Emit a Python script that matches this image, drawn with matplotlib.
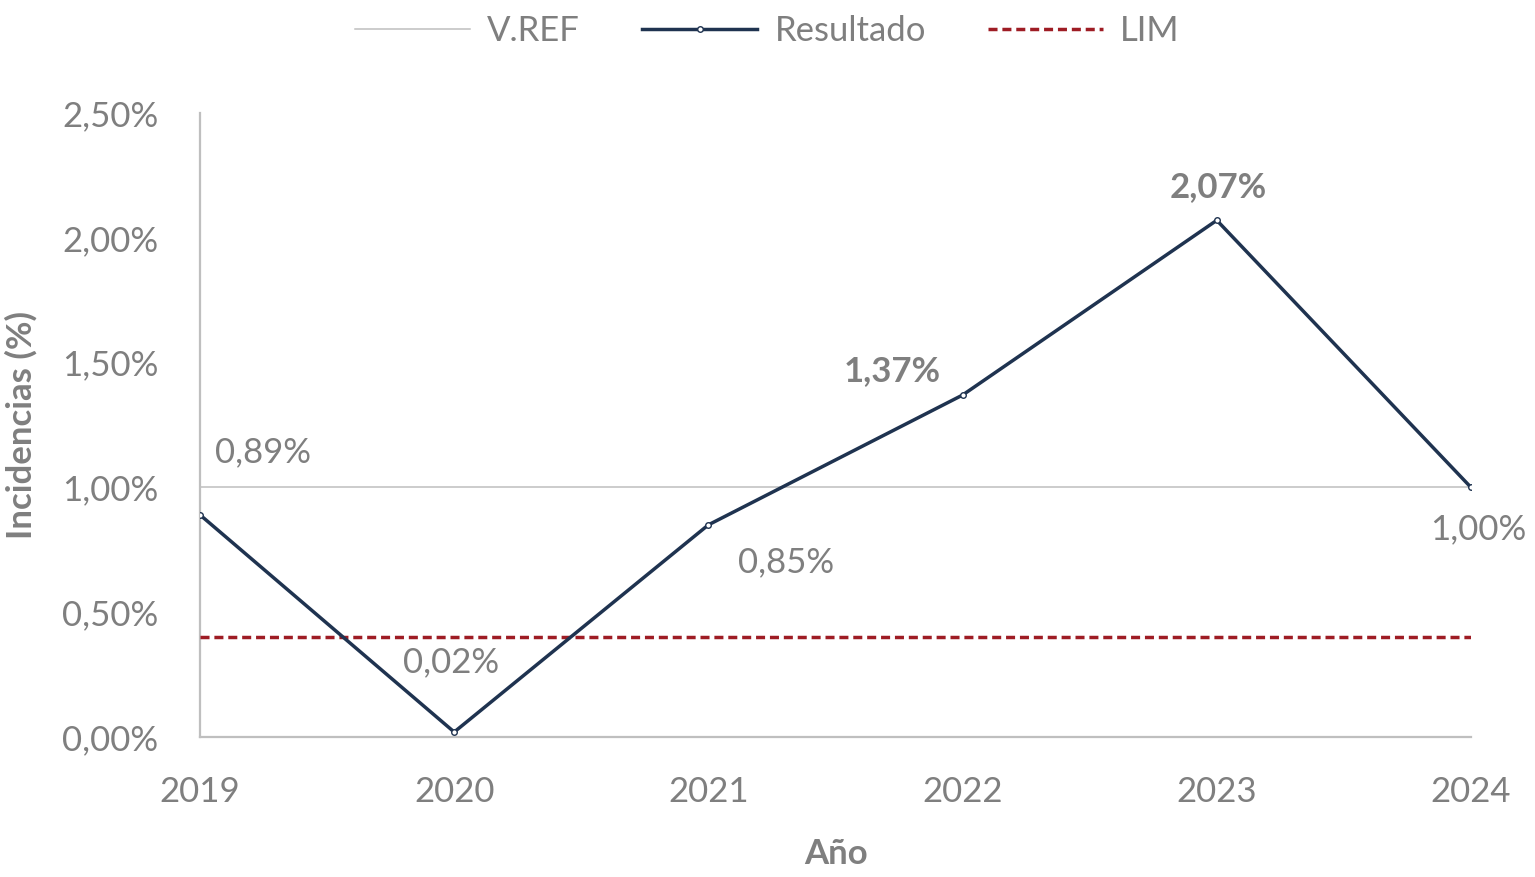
import matplotlib
matplotlib.use("Agg")
import matplotlib.pyplot as plt
from matplotlib.ticker import FuncFormatter

plt.rcParams["font.family"] = ["Lato", "DejaVu Sans"]

# ── Data ─────────────────────────────────────────────────────────
years = [2019, 2020, 2021, 2022, 2023, 2024]
resultado = [0.89, 0.02, 0.85, 1.37, 2.07, 1.00]
vref = [1.00, 1.00, 1.00, 1.00, 1.00, 1.00]
lim = [0.40, 0.40, 0.40, 0.40, 0.40, 0.40]
y_ticks = [0.0, 0.5, 1.0, 1.5, 2.0, 2.5]

# label offsets (points) and weight per point
lbl_off = [(45, 45), (-2, 50), (56, -27), (-51, 17), (1, 24), (5, -30)]
lbl_bold = [False, False, False, True, True, False]

GRAY_TXT = "#7F7F7F"
NAVY = "#1F3350"
RED = "#9E1C24"
AXIS = "#BFBFBF"
FS = 25

fig = plt.figure(figsize=(15.35, 8.77), dpi=100, facecolor="white")
ax = fig.add_axes([0.1303, 0.1596, 0.8280, 0.7116])

ax.plot(years, vref, color=AXIS, lw=1.1, label="V.REF", zorder=2)
ax.plot(years, resultado, color=NAVY, lw=2.5, marker="o", markersize=4,
        markerfacecolor="white", markeredgecolor=NAVY, markeredgewidth=1,
        label="Resultado", zorder=4)
ax.plot(years, lim, color=RED, lw=2.5, ls=(0, (2.6, 1.4)), label="LIM", zorder=3)

for x, y, off, b in zip(years, resultado, lbl_off, lbl_bold):
    ax.annotate(f"{y:.2f}%".replace(".", ","), (x, y), xytext=off,
                textcoords="offset points", ha="center", va="center",
                fontsize=FS, color=GRAY_TXT,
                fontweight="bold" if b else "normal", zorder=5)

ax.set_xlim(2019, 2024)
ax.set_ylim(0, 2.5)
ax.set_xticks(years)
ax.set_yticks(y_ticks)
ax.yaxis.set_major_formatter(FuncFormatter(lambda v, p: f"{v:.2f}%".replace(".", ",")))
ax.tick_params(length=0, labelsize=FS, colors=GRAY_TXT)
ax.tick_params(axis="x", pad=28)
ax.tick_params(axis="y", pad=30)

for s in ["top", "right"]:
    ax.spines[s].set_visible(False)
for s in ["left", "bottom"]:
    ax.spines[s].set_color(AXIS)
    ax.spines[s].set_linewidth(1.6)

ax.set_xlabel("Año", fontsize=FS, fontweight="bold", color=GRAY_TXT, labelpad=22)
ax.set_ylabel("Incidencias (%)", fontsize=FS, fontweight="bold", color=GRAY_TXT)
ax.yaxis.set_label_coords(-0.128, 0.5)

fig.legend(loc="upper center", bbox_to_anchor=(0.5, 1.018), ncol=3, frameon=False,
           fontsize=FS, labelcolor=GRAY_TXT, handlelength=3.3, columnspacing=1.8,
           handletextpad=0.5)

fig.savefig("out.png", dpi=100, facecolor="white")
